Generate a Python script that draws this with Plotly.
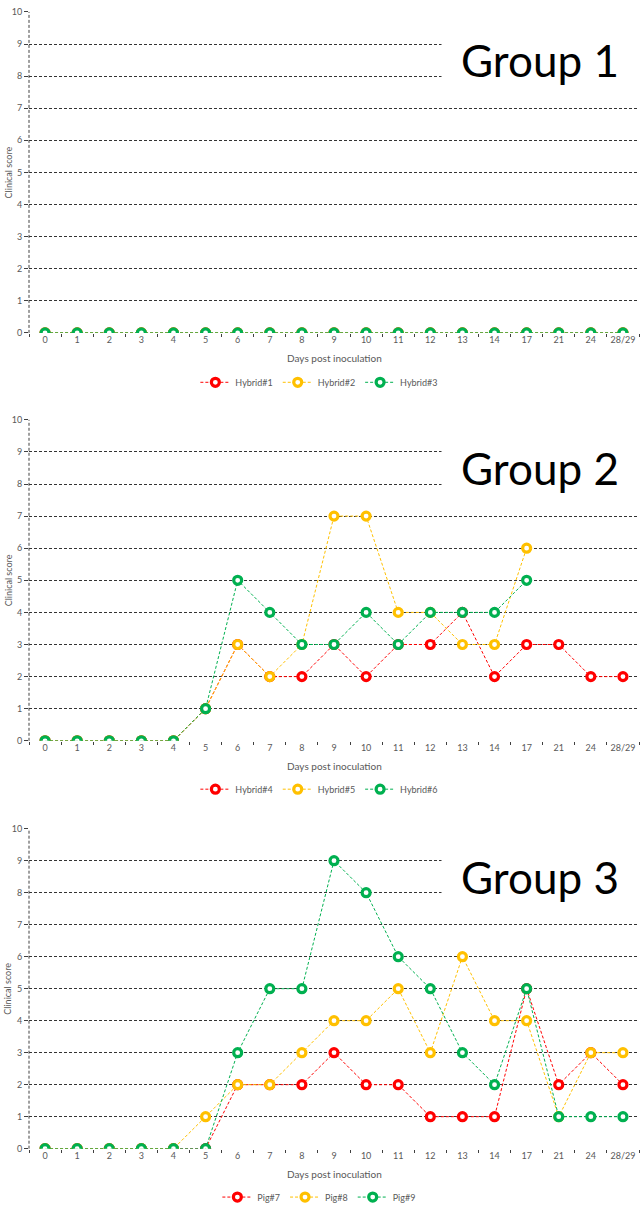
import plotly.graph_objects as go

# x categories (days post inoculation)
days = ["0", "1", "2", "3", "4", "5", "6", "7", "8", "9", "10",
        "11", "12", "13", "14", "17", "21", "24", "28/29"]

# Group 1
g1_names = ["Hybrid#1", "Hybrid#2", "Hybrid#3"]
hybrid1 = [0] * 19
hybrid2 = [0] * 19
hybrid3 = [0] * 19

# Group 2
g2_names = ["Hybrid#4", "Hybrid#5", "Hybrid#6"]
hybrid4 = [0, 0, 0, 0, 0, 1, 3, 2, 2, 3, 2, 3, 3, 4, 2, 3, 3, 2, 2]
hybrid5 = [0, 0, 0, 0, 0, 1, 3, 2, 3, 7, 7, 4, 4, 3, 3, 6, None, None, None]
hybrid6 = [0, 0, 0, 0, 0, 1, 5, 4, 3, 3, 4, 3, 4, 4, 4, 5, None, None, None]

# Group 3
g3_names = ["Pig#7", "Pig#8", "Pig#9"]
pig7 = [0, 0, 0, 0, 0, 0, 2, 2, 2, 3, 2, 2, 1, 1, 1, 5, 2, 3, 2]
pig8 = [0, 0, 0, 0, 0, 1, 2, 2, 3, 4, 4, 5, 3, 6, 4, 4, 1, 3, 3]
pig9 = [0, 0, 0, 0, 0, 0, 3, 5, 5, 9, 8, 6, 5, 3, 2, 5, 1, 1, 1]

groups = [
    ("Group 1", g1_names, [hybrid1, hybrid2, hybrid3]),
    ("Group 2", g2_names, [hybrid4, hybrid5, hybrid6]),
    ("Group 3", g3_names, [pig7, pig8, pig9]),
]

colors = ["#FF0000", "#FFC000", "#00B050"]
FONT = "Lato"
GREY = "#595959"
H = 1212

# pixel top/bottom of each plot area
plot_px = [(6, 331), (419, 744), (833, 1157)]
legend_px = [381, 793, 1206]

fig = go.Figure()
annotations = []
shapes = []

for i, (title, names, series) in enumerate(groups):
    n = i + 1
    sfx = "" if n == 1 else str(n)
    for name, vals, col in zip(names, series, colors):
        fig.add_trace(go.Scatter(
            x=days, y=vals, name=name, mode="lines+markers",
            xaxis="x" + sfx, yaxis="y" + sfx,
            legend="legend" + sfx,
            line=dict(color=col, width=1, dash="3px,2px"),
            marker=dict(symbol="circle", size=8, color="white",
                        line=dict(color=col, width=3.2)),
            connectgaps=False,
        ))

    top, bot = plot_px[i]
    fig.update_layout({
        "xaxis" + sfx: dict(
            domain=[0, 1], anchor="y" + sfx, type="category",
            categoryorder="array", categoryarray=days,
            range=[-0.5, 18.5], showgrid=False, zeroline=False,
            showline=False, ticks="outside", ticklen=3, tickcolor="#404040",
            tickson="boundaries", tickangle=0,
            tickfont=dict(family=FONT, size=9, color=GREY),
        ),
        "yaxis" + sfx: dict(
            domain=[1 - bot / H, 1 - top / H], anchor="x" + sfx,
            range=[0, 10], dtick=1, showgrid=True, gridcolor="#333333",
            griddash="3px,2px", gridwidth=1, zeroline=False, showline=False,
            ticks="outside", ticklen=4, tickcolor="#404040",
            tickfont=dict(family=FONT, size=9, color=GREY),
        ),
        "legend" + sfx: dict(
            orientation="h", x=0.476, xanchor="center",
            y=1 - legend_px[i] / H, yanchor="middle",
            font=dict(family=FONT, size=9, color=GREY),
            bgcolor="rgba(0,0,0,0)",
        ),
    })

    # dashed vertical axis
    shapes.append(dict(type="line", xref="x" + sfx + " domain", yref="y" + sfx + " domain",
                       x0=0, x1=0, y0=0, y1=1,
                       line=dict(color="#404040", width=1, dash="3px,2px")))
    annotations.append(dict(
        text=title, xref="x" + sfx + " domain", yref="y" + sfx,
        x=1.0, y=8.5, xanchor="right", yanchor="middle", showarrow=False,
        width=196, height=60, align="center", bgcolor="white", borderpad=0,
        font=dict(family=FONT, size=44, color="black"),
    ))
    annotations.append(dict(
        text="Days post inoculation", xref="x" + sfx + " domain",
        yref="y" + sfx + " domain", x=0.5, y=0, yshift=-25,
        xanchor="center", yanchor="middle", showarrow=False,
        font=dict(family=FONT, size=10, color=GREY),
    ))
    annotations.append(dict(
        text="Clinical score", xref="paper", yref="y" + sfx + " domain",
        x=-21 / 610, y=0.5, xanchor="center", yanchor="middle",
        textangle=-90, showarrow=False,
        font=dict(family=FONT, size=9, color=GREY),
    ))

fig.update_layout(
    width=643, height=1212,
    margin=dict(l=29, r=4, t=0, b=0),
    paper_bgcolor="white", plot_bgcolor="white",
    annotations=annotations, shapes=shapes,
    showlegend=True,
)

fig.write_html("out.html", config={"displayModeBar": False},
               post_script="document.body.style.margin='0';")
